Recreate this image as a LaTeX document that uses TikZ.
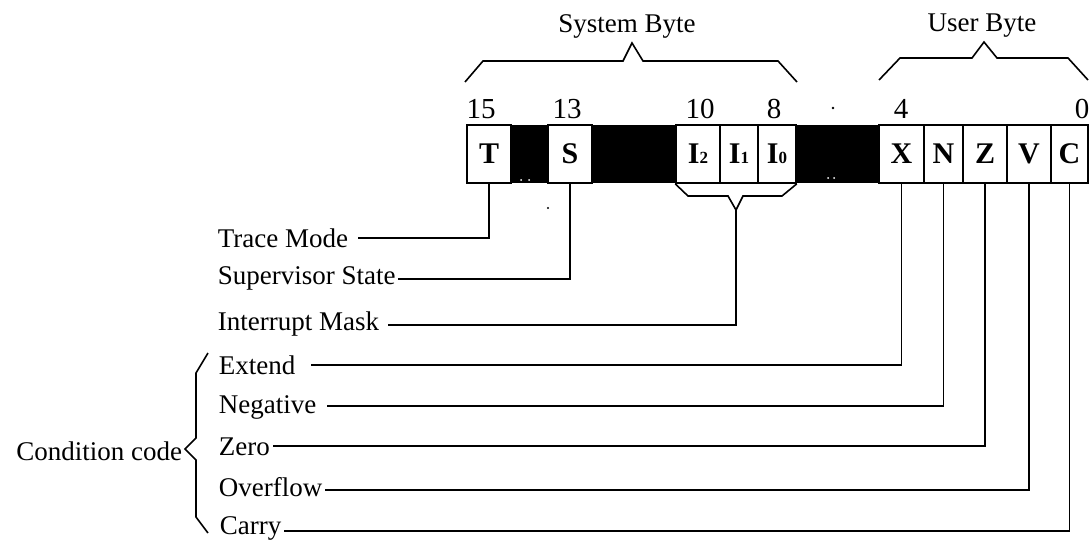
\documentclass[tikz,border=0pt]{standalone}
\usepackage{fontspec}
\setmainfont{Liberation Serif}
\usetikzlibrary{calc}

\begin{document}
\begin{tikzpicture}[x=1pt,y=-1pt,line width=1.6pt,line join=miter,
  lab/.style={font=\fontsize{27}{27}\selectfont,inner sep=0pt},
  num/.style={font=\fontsize{29}{29}\selectfont,inner sep=0pt,anchor=base},
  bitbox/.style={draw,fill=white,minimum height=58pt,inner sep=0pt,
    font=\bfseries\fontsize{30}{30}\selectfont},
  wire/.style={line width=1.6pt},
]
\useasboundingbox (0,0) rectangle (1091,541);

% unused bits of the status register
\fill (511,125) rectangle (548,183);
\fill (592,125) rectangle (676,183);
\fill (796,125) rectangle (879,183);
\fill[white] (521,180) circle (1) (529,180) circle (1);
\fill[white] (828,178) circle (1) (834,178) circle (1);

% named flag bits
\node[bitbox,minimum width=44pt] (T)  at (489,154)   {T};
\node[bitbox,minimum width=44pt] (S)  at (570,154)   {S};
\node[bitbox,minimum width=44pt] (I2) at (698,154)   {I{\fontsize{17}{17}\selectfont 2}};
\node[bitbox,minimum width=38pt] (I1) at (739,154)   {I{\fontsize{17}{17}\selectfont 1}};
\node[bitbox,minimum width=38pt] (I0) at (777,154)   {I{\fontsize{17}{17}\selectfont 0}};
\node[bitbox,minimum width=45pt] (X)  at (901.5,154) {X};
\node[bitbox,minimum width=39pt] (N)  at (943.5,154) {N};
\node[bitbox,minimum width=44pt] (Z)  at (985,154)   {Z};
\node[bitbox,minimum width=44pt] (V)  at (1029,154)  {V};
\node[bitbox,minimum width=37pt] (C)  at (1069.5,154){C};

% bit numbers
\node[num] (b15) at (481,118)  {15};
\node[num] (b13) at (567,118)  {13};
\node[num] (b10) at (700,118)  {10};
\node[num] (b8)  at (774,118)  {8};
\node[num] (b4)  at (901,118)  {4};
\node[num] (b0)  at (1082,118) {0};
\fill (833,108) circle (1.3);
\fill (548,208) circle (1.1);

% byte braces
\node[lab,anchor=base] (sysb) at (627,32) {System Byte};
\node[lab,anchor=base] (usrb) at (982,31) {User Byte};
\draw (465,82) -- (483,61) -- (623,61) -- (632,43) -- (643,61) -- (778,61) -- (797,82);
\draw (879,80) -- (900,58) -- (972,58) -- (984,42) -- (997,58) -- (1068,58) -- (1088,80);

% interrupt mask brace
\coordinate (imtip) at (736,210);
\draw (I2.south west) -- (688,196) -- (728,196) -- (imtip) -- (743,196) -- (782,196) -- (I0.south east);

% flag labels
\node[lab,anchor=base west] (tm) at (217,247) {Trace Mode};
\node[lab,anchor=base west] (ss) at (217,284) {Supervisor State};
\node[lab,anchor=base west] (im) at (217,330) {Interrupt Mask};
\node[lab,anchor=base west] (ex) at (218,374) {Extend};
\node[lab,anchor=base west] (ng) at (218,413) {Negative};
\node[lab,anchor=base west] (zr) at (218,455) {Zero};
\node[lab,anchor=base west] (ov) at (218,496) {Overflow};
\node[lab,anchor=base west] (ca) at (219,534) {Carry};
\node[lab,anchor=base east] (cc) at (183,460) {Condition code};

\coordinate (tmE) at ($(tm.base east)+(9,-9)$);
\coordinate (ssE) at ($(ss.base east)+(2,-5)$);
\coordinate (imE) at ($(im.base east)+(8,-5)$);
\coordinate (exE) at ($(ex.base east)+(15,-9)$);
\coordinate (ngE) at ($(ng.base east)+(10,-7)$);
\coordinate (zrE) at ($(zr.base east)+(2,-9)$);
\coordinate (ovE) at ($(ov.base east)+(2,-6)$);
\coordinate (caE) at ($(ca.base east)+(2,-3)$);

% connectors from the bits to their labels
\draw[wire] (T.south) |- (tmE);
\draw[wire] (S.south) |- (ssE);
\draw[wire] (imtip) |- (imE);
\draw[wire] (X.south) |- (exE);
\draw[wire] (N.south) |- (ngE);
\draw[wire] (Z.south) |- (zrE);
\draw[wire] (V.south) |- (ovE);
\draw[wire] (C.south) |- (caE);

% condition code brace
\draw (208,353) -- (196,373) -- (196,438) -- (185,449) -- (196,460) -- (196,517) -- (208,533);
\end{tikzpicture}
\end{document}
